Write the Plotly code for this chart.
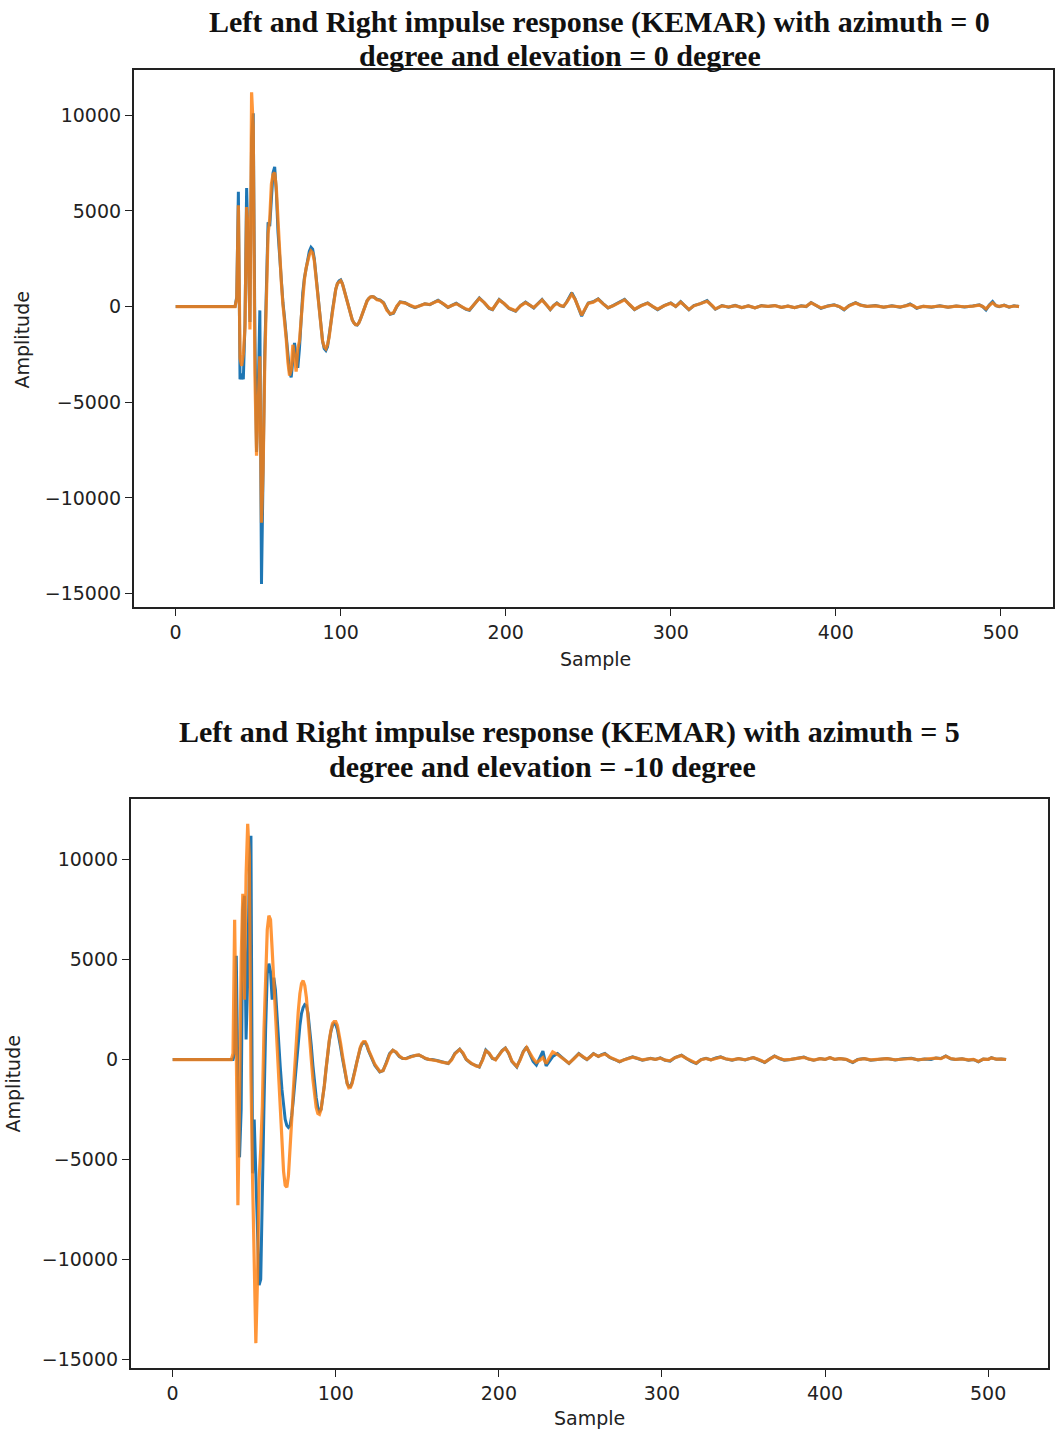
import plotly.graph_objects as go

# ---------------- data ----------------
# Top panel: azimuth 0, elevation 0
top_early_x = list(range(36, 121))
top_left_early = [
    0, 500, 6000, -3800, -3500, -3800, -900, 6200, 3200, -800,
    8800, 10100, -1500, -7600, -4500, -200, -14500, -7000, -2400, 1000,
    4400, 4200, 5800, 7000, 7300, 6000, 3900, 2500, 1200, 200,
    -600, -1500, -2600, -3400, -3700, -2600, -1900, -2600, -3200, -2200,
    -600, 700, 1500, 2000, 2500, 2900, 3100, 3000, 2500, 1600,
    700, -300, -1200, -1800, -2200, -2300, -2100, -1600, -900, -200,
    400, 900, 1200, 1350, 1400, 1200, 900, 550, 200, -150,
    -450, -700, -850, -950, -970, -850, -650, -400, -150, 100,
    300, 420, 500, 520, 500]
top_right_early = [
    0, 400, 5300, -2700, -3100, -2500, -1100, 5200, 3900, -1200,
    11200, 9400, -3500, -7800, -5200, -2600, -11300, -8500, -2900, 800,
    3800, 4600, 6400, 6900, 7000, 6200, 4300, 2800, 1300, 100,
    -700, -1700, -2900, -3600, -3300, -2000, -2600, -3400, -2200, -1800,
    -700, 600, 1400, 2000, 2400, 2700, 2900, 2800, 2400, 1600,
    700, -300, -1100, -1800, -2100, -2200, -2000, -1600, -900, -200,
    400, 900, 1200, 1300, 1350, 1200, 900, 550, 200, -150,
    -450, -700, -850, -950, -950, -850, -650, -400, -150, 100,
    300, 420, 500, 520, 500]

top_tail_x = [
    122, 124, 126, 128, 130, 132, 134, 136, 139, 142,
    145, 148, 151, 154, 157, 159, 162, 165, 167, 170,
    173, 176, 178, 181, 184, 187, 190, 192, 194, 196,
    199, 202, 206, 209, 212, 215, 217, 220, 222, 225,
    227, 229, 231, 233, 235, 237, 240, 242, 244, 246,
    248, 250, 253, 256, 259, 262, 265, 268, 272, 275,
    278, 282, 286, 289, 292, 296, 300, 303, 306, 309,
    311, 314, 318, 322, 325, 327, 331, 335, 339, 343,
    347, 351, 355, 359, 363, 367, 371, 375, 379, 382,
    385, 388, 391, 395, 399, 402, 405, 408, 412, 415,
    419, 424, 429, 434, 439, 443, 445, 447, 449, 453,
    458, 463, 468, 473, 478, 483, 487, 489, 491, 493,
    495, 497, 499, 502, 505, 508, 511]
top_left_tail = [
    380, 340, 200, -150, -400, -350, 0, 250, 200, 50,
    -50, 50, 150, 100, 250, 330, 150, -50, 50, 170,
    0, -150, -190, 150, 450, 200, -100, -160, 100, 370,
    150, -100, -240, 50, 230, 50, -70, 200, 370, 50,
    -160, 50, 190, 50, 0, 250, 720, 400, -100, -500,
    -150, 190, 250, 400, 150, -70, 50, 200, 380, 100,
    -160, 50, 190, 0, -160, 50, 190, 0, 260, 0,
    -170, 50, 150, 310, 50, -140, 50, -30, 60, -60,
    40, -70, 50, 0, 60, -50, 30, -60, 40, 0,
    210, 50, -90, 30, 90, 0, -170, 50, 210, 80,
    0, 50, -40, 40, -30, 60, 140, 30, -90, 20,
    -30, 40, -40, 30, -20, 30, 90, 0, -170, 80,
    260, 50, 0, 80, -30, 40, 0]
top_right_tail = [
    360, 320, 180, -200, -380, -320, 20, 230, 180, 60,
    -40, 40, 140, 110, 230, 300, 160, -30, 40, 150,
    10, -130, -170, 130, 420, 210, -80, -140, 90, 340,
    160, -80, -220, 40, 210, 60, -50, 180, 340, 60,
    -140, 40, 170, 60, 20, 230, 650, 380, -80, -450,
    -130, 170, 230, 380, 140, -60, 40, 180, 350, 110,
    -140, 40, 170, 10, -140, 40, 170, 10, 230, 10,
    -150, 40, 140, 280, 60, -120, 40, -20, 50, -50,
    30, -60, 40, 10, 50, -40, 20, -50, 30, 10,
    190, 60, -70, 20, 80, 10, -140, 40, 190, 70,
    10, 40, -30, 30, -20, 50, 100, 40, -70, 10,
    -20, 30, -30, 20, -10, 20, 70, 10, -120, 60,
    200, 60, 10, 60, -20, 30, 0]

# Bottom panel: azimuth 5, elevation -10
bot_early_x = list(range(36, 121))
bot_left_early = [
    0, 0, 300, 5200, -1000, -4900, -2500, 7500, 8200, 1000,
    4000, 9500, 11200, -5700, -3000, -6000, -9000, -11300, -11000, -5800,
    -2300, 1500, 4300, 4800, 4400, 3000, 4100, 3500, 2000, 800,
    -400, -1500, -2400, -3000, -3300, -3400, -3300, -2800, -2000, -1000,
    0, 900, 1700, 2300, 2600, 2750, 2700, 2300, 1600, 700,
    -300, -1200, -1900, -2400, -2600, -2500, -2000, -1300, -500, 300,
    900, 1400, 1700, 1800, 1750, 1500, 1100, 600, 100, -400,
    -800, -1200, -1350, -1350, -1150, -850, -450, -100, 250, 550,
    750, 850, 850, 700, 450]
bot_right_early = [
    0, 300, 7000, 600, -7300, -2000, 5000, 8300, 3000, 9200,
    11800, 10200, -800, -6000, -9500, -14200, -11000, -6000, -4500, -2300,
    1500, 4500, 6500, 7200, 7000, 5500, 3800, 2500, 800, -1000,
    -2800, -4300, -5600, -6300, -6400, -5800, -4600, -3000, -1500, 0,
    1300, 2400, 3300, 3800, 3950, 3700, 3100, 2200, 1100, 0,
    -1000, -1800, -2400, -2700, -2750, -2500, -2000, -1300, -500, 300,
    950, 1450, 1800, 1900, 1900, 1700, 1300, 800, 250, -300,
    -800, -1200, -1420, -1400, -1200, -900, -500, -100, 300, 600,
    800, 900, 900, 750, 500]

bot_tail_x = [
    122, 124, 127, 129, 131, 133, 135, 137, 139, 141,
    143, 146, 149, 151, 153, 155, 157, 159, 162, 165,
    169, 171, 173, 176, 178, 180, 183, 186, 188, 190,
    192, 194, 196, 198, 200, 202, 204, 206, 208, 211,
    213, 215, 217, 219, 221, 223, 225, 227, 229, 231,
    233, 236, 239, 243, 246, 249, 252, 254, 256, 258,
    261, 263, 265, 268, 271, 274, 277, 280, 282, 285,
    288, 290, 293, 296, 299, 302, 305, 308, 312, 315,
    318, 321, 324, 327, 330, 333, 336, 339, 343, 347,
    351, 354, 356, 359, 363, 366, 369, 372, 375, 379,
    383, 387, 390, 393, 397, 400, 403, 406, 409, 413,
    415, 417, 420, 424, 428, 433, 438, 443, 448, 453,
    457, 461, 465, 468, 471, 474, 477, 480, 484, 488,
    491, 494, 497, 500, 502, 505, 508, 511]
bot_left_tail = [
    100, -300, -620, -550, -150, 300, 470, 350, 150, 50,
    50, 150, 200, 220, 150, 50, 0, 0, -50, -120,
    -200, 0, 300, 520, 300, 0, -200, -300, -370, 0,
    470, 300, 50, 0, 250, 450, 580, 300, -100, -370,
    0, 400, 630, 300, -100, -280, 100, 420, -320, -100,
    150, 300, 100, -200, 50, 300, 100, 0, 150, 300,
    150, 250, 300, 100, 0, -120, 0, 100, 130, 50,
    -30, 0, 60, 0, 80, -40, -80, 100, 220, 50,
    -100, -200, 0, 60, -20, 80, 130, 30, -30, 50,
    -20, 60, 100, 0, -150, 30, 180, 50, -30, 0,
    60, 120, 20, -40, 50, 0, 100, 0, 50, 0,
    -80, -150, 0, 50, -30, 0, 50, -20, 40, 60,
    -20, 30, 0, 80, 50, 180, 40, 0, 40, -30,
    0, -120, 20, 0, 90, 10, 30, 0]
bot_right_tail = [
    150, -250, -600, -560, -200, 250, 460, 380, 170, 60,
    40, 130, 210, 230, 140, 60, 10, -10, -60, -130,
    -190, -20, 280, 500, 330, 20, -180, -320, -360, -30,
    440, 320, 80, -20, 230, 430, 560, 330, -80, -350,
    -30, 380, 610, 330, 50, -150, -50, 100, -200, 100,
    380, 250, 80, -180, 40, 280, 120, 10, 130, 280,
    160, 230, 280, 120, 10, -100, -10, 90, 120, 60,
    -20, 10, 50, 10, 70, -30, -60, 90, 200, 60,
    -80, -180, -10, 50, -10, 70, 120, 40, -20, 40,
    -10, 50, 90, 10, -130, 20, 160, 60, -20, 10,
    50, 110, 30, -30, 40, 10, 90, 10, 40, 10,
    -60, -130, -10, 40, -20, 10, 40, -10, 30, 50,
    -10, 20, 10, 70, 40, 160, 50, 10, 30, -20,
    10, -100, 20, 10, 80, 20, 20, 0]

x_tick_vals = [0, 100, 200, 300, 400, 500]
y_tick_vals = [-15000, -10000, -5000, 0, 5000, 10000]
y_tick_text = ["\u221215000", "\u221210000", "\u22125000", "0", "5000", "10000"]

top_title = ["Left and Right impulse response (KEMAR) with azimuth = 0",
             "degree and elevation = 0 degree"]
bot_title = ["Left and Right impulse response (KEMAR) with azimuth = 5",
             "degree and elevation = -10 degree"]

for a, b in [(top_left_early, top_early_x), (top_right_early, top_early_x),
             (bot_left_early, bot_early_x), (bot_right_early, bot_early_x),
             (top_left_tail, top_tail_x), (top_right_tail, top_tail_x),
             (bot_left_tail, bot_tail_x), (bot_right_tail, bot_tail_x)]:
    assert len(a) == len(b), (len(a), len(b))

# ---------------- figure ----------------
W, H = 1055, 1435
BLUE = "#1f77b4"
ORANGE = "#ff7f0e"


def px_x(p):
    return p / W


def px_y(p):
    return 1 - p / H


fig = go.Figure()

top_x = [0] + top_early_x + top_tail_x
bot_x = [0] + bot_early_x + bot_tail_x

fig.add_trace(go.Scatter(x=top_x, y=[0] + top_left_early + top_left_tail,
                         mode="lines", line=dict(color=BLUE, width=3.0),
                         xaxis="x", yaxis="y", name="Left"))
fig.add_trace(go.Scatter(x=top_x, y=[0] + top_right_early + top_right_tail,
                         mode="lines", line=dict(color=ORANGE, width=3.2),
                         opacity=0.82, xaxis="x", yaxis="y", name="Right"))
fig.add_trace(go.Scatter(x=bot_x, y=[0] + bot_left_early + bot_left_tail,
                         mode="lines", line=dict(color=BLUE, width=3.0),
                         xaxis="x2", yaxis="y2", name="Left"))
fig.add_trace(go.Scatter(x=bot_x, y=[0] + bot_right_early + bot_right_tail,
                         mode="lines", line=dict(color=ORANGE, width=3.2),
                         opacity=0.82, xaxis="x2", yaxis="y2", name="Right"))

tickfont = dict(family="DejaVu Sans", size=19, color="#222222")
axis_common = dict(showgrid=False, zeroline=False, showline=True, mirror=True,
                   linecolor="#222222", linewidth=1.6, ticks="outside",
                   ticklen=7, tickwidth=1.4, tickcolor="#222222",
                   tickfont=tickfont, fixedrange=True)

fig.update_layout(
    width=W, height=H,
    margin=dict(l=0, r=0, t=0, b=0),
    paper_bgcolor="white", plot_bgcolor="white",
    showlegend=False,
    xaxis=dict(domain=[px_x(134), 1.0], range=[-25.4, 531.6],
               tickvals=x_tick_vals, anchor="y", **axis_common),
    yaxis=dict(domain=[px_y(608), px_y(70)], range=[-15710, 12370],
               tickvals=y_tick_vals, ticktext=y_tick_text, anchor="x",
               **axis_common),
    xaxis2=dict(domain=[px_x(131), px_x(1050)], range=[-25.7, 536.7],
                tickvals=x_tick_vals, anchor="y2", **axis_common),
    yaxis2=dict(domain=[px_y(1370), px_y(800)], range=[-15450, 13050],
                tickvals=y_tick_vals, ticktext=y_tick_text, anchor="x2",
                **axis_common),
)

title_font = dict(family="Liberation Serif", size=30, color="#111111",
                  weight="bold")
label_font = dict(family="DejaVu Sans", size=19, color="#222222")

annots = [
    (top_title[0], 601, 22, title_font, 0),
    (top_title[1], 561, 56, title_font, 0),
    (bot_title[0], 571, 733, title_font, 0),
    (bot_title[1], 544, 768, title_font, 0),
    ("Sample", 597, 660, label_font, 0),
    ("Sample", 591, 1420, label_font, 0),
    ("Amplitude", 22, 340, label_font, -90),
    ("Amplitude", 14, 1085, label_font, -90),
]
for text, x, y, font, ang in annots:
    fig.add_annotation(text=text, x=px_x(x), y=px_y(y), xref="paper",
                       yref="paper", xanchor="center", yanchor="middle",
                       showarrow=False, font=font, textangle=ang)

fig.write_html("out.html")
